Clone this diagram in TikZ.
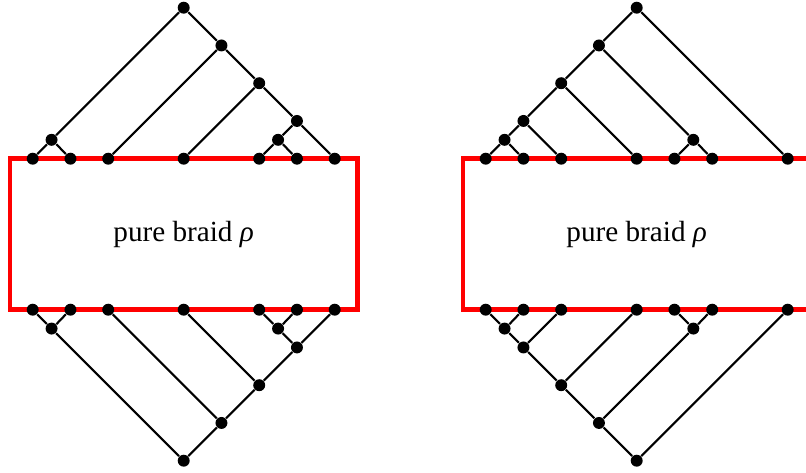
\documentclass[tikz,border=0pt]{standalone}
\usepackage{fontspec}
\setmainfont{Liberation Serif}
\tikzset{
  dot/.style={circle,fill=black,inner sep=0pt,minimum size=4.5pt},
  edge/.style={black,line width=0.8pt},
  braidbox/.style={red,line width=1.8pt},
  lbl/.style={font=\fontsize{11}{13}\selectfont}
}
% left diagram tree: leaves 0,1,2,4,6,7,8
\newcommand{\treeLeft}[1]{%
  \node[dot] (#1l0) at (0,0) {};
  \node[dot] (#1l1) at (1,0) {};
  \node[dot] (#1l2) at (2,0) {};
  \node[dot] (#1l4) at (4,0) {};
  \node[dot] (#1l6) at (6,0) {};
  \node[dot] (#1l7) at (7,0) {};
  \node[dot] (#1l8) at (8,0) {};
  \node[dot] (#1a) at (0.5,0.5) {};
  \node[dot] (#1b) at (6.5,0.5) {};
  \node[dot] (#1c) at (7,1) {};
  \node[dot] (#1d) at (6,2) {};
  \node[dot] (#1e) at (5,3) {};
  \node[dot] (#1r) at (4,4) {};
  \draw[edge] (#1l0) -- (#1a) -- (#1l1);
  \draw[edge] (#1l6) -- (#1b) -- (#1l7);
  \draw[edge] (#1b) -- (#1c) -- (#1l8);
  \draw[edge] (#1l4) -- (#1d) -- (#1c);
  \draw[edge] (#1l2) -- (#1e) -- (#1d);
  \draw[edge] (#1a) -- (#1r) -- (#1e);
}
% right diagram tree: leaves 0,1,2,4,5,6,8
\newcommand{\treeRight}[1]{%
  \node[dot] (#1l0) at (0,0) {};
  \node[dot] (#1l1) at (1,0) {};
  \node[dot] (#1l2) at (2,0) {};
  \node[dot] (#1l4) at (4,0) {};
  \node[dot] (#1l5) at (5,0) {};
  \node[dot] (#1l6) at (6,0) {};
  \node[dot] (#1l8) at (8,0) {};
  \node[dot] (#1a) at (0.5,0.5) {};
  \node[dot] (#1b) at (1,1) {};
  \node[dot] (#1c) at (2,2) {};
  \node[dot] (#1d) at (5.5,0.5) {};
  \node[dot] (#1e) at (3,3) {};
  \node[dot] (#1r) at (4,4) {};
  \draw[edge] (#1l0) -- (#1a) -- (#1l1);
  \draw[edge] (#1a) -- (#1b) -- (#1l2);
  \draw[edge] (#1b) -- (#1c) -- (#1l4);
  \draw[edge] (#1l5) -- (#1d) -- (#1l6);
  \draw[edge] (#1c) -- (#1e) -- (#1d);
  \draw[edge] (#1e) -- (#1r) -- (#1l8);
}
\begin{document}
\begin{tikzpicture}[x=0.5cm,y=0.5cm]
\useasboundingbox (-0.866,-8.30) rectangle (20.485,4.204);
% left
\draw[braidbox] (-0.6,0) rectangle (8.6,-4);
\node[lbl] (labelL) at (4,-2) {pure braid \textit{ρ}};
\treeLeft{LT}
\begin{scope}[shift={(0,-4)},yscale=-1]
\treeLeft{LB}
\end{scope}
% right
\begin{scope}
\clip (-0.866,-8.30) rectangle (20.485,4.204);
\draw[braidbox] (12-0.6,0) rectangle (12+8.6,-4);
\end{scope}
\node[lbl] (labelR) at (16,-2) {pure braid \textit{ρ}};
\begin{scope}[shift={(12,0)}]
\treeRight{RT}
\end{scope}
\begin{scope}[shift={(12,-4)},yscale=-1]
\treeRight{RB}
\end{scope}
\end{tikzpicture}
\end{document}
